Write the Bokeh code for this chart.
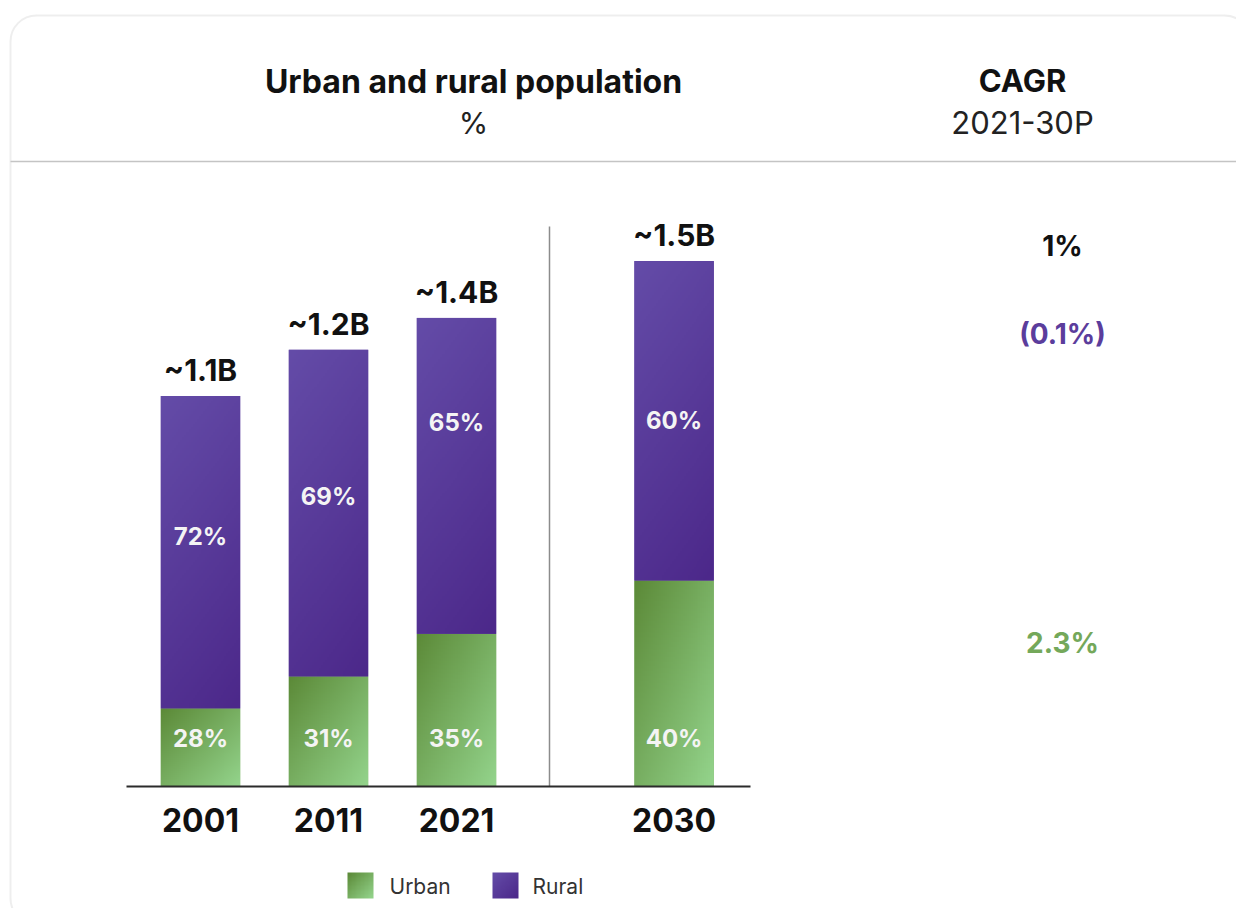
import numpy as np
from bokeh.plotting import figure
from bokeh.models import Range1d, BoxAnnotation
from bokeh.core.properties import value
from bokeh.embed import file_html
from bokeh.resources import INLINE

# ---------------- data ----------------
years = ["2001", "2011", "2021", "2030"]
projected = [0, 0, 0, 1]
urban = [0.22, 0.31, 0.43, 0.58]      # bar segment heights (billions)
rural = [0.88, 0.92, 0.89, 0.90]
total_labels = ["~1.1B", "~1.2B", "~1.4B", "~1.5B"]
urban_pct = ["28%", "31%", "35%", "40%"]
rural_pct = ["72%", "69%", "65%", "60%"]
cagr_labels = ["1%", "(0.1%)", "2.3%"]
legend_labels = ["Urban", "Rural"]
title = "Urban and rural population"
subtitle = "%"
cagr_title = "CAGR"
cagr_sub = "2021-30P"

# ---------------- layout ----------------
W, H = 1236, 908
UNIT = 128.0          # px per slot
PPB = 355.0           # px per billion
BASE_PX = 786         # baseline, px from top
X0 = -200.0 / UNIT
Y0 = -(H - BASE_PX) / PPB
GAP = 0.70
BAR_W = 0.62
FONT = value("Inter")
rural_label_frac = [0.45, 0.45, 0.33, 0.50]   # label position from top of rural segment


def dx(px):
    return X0 + px / UNIT


def dy(py):
    return Y0 + (H - py) / PPB


xs = [i + GAP * pj for i, pj in enumerate(projected)]
tops = [u + r for u, r in zip(urban, rural)]

p = figure(width=W, height=H, x_range=Range1d(X0, X0 + W / UNIT),
           y_range=Range1d(Y0, Y0 + H / PPB), min_border=0,
           x_axis_type=None, y_axis_type=None, toolbar_location=None,
           output_backend="svg")
p.grid.visible = False
p.outline_line_color = None
p.background_fill_color = "white"
p.border_fill_color = "white"


def grad_img(c0, c1, wv=0.5, nx=40, ny=120):
    yy, xx = np.mgrid[0:ny, 0:nx]
    t = wv * (1 - yy / (ny - 1)) + (1 - wv) * (xx / (nx - 1))
    img = np.empty((ny, nx), dtype=np.uint32)
    v = img.view(dtype=np.uint8).reshape((ny, nx, 4))
    for k in range(3):
        v[:, :, k] = np.clip(c0[k] + (c1[k] - c0[k]) * t, 0, 255).astype(np.uint8)
    v[:, :, 3] = 255
    return img


G0, G1 = (92, 138, 56), (148, 212, 140)
P0, P1 = (100, 76, 168), (76, 40, 138)
green_img = grad_img(G0, G1, 0.5)
purple_img = grad_img(P0, P1, 0.75)

# solid base bars (fallback colour under the gradients)
p.vbar(x=xs, bottom=0, top=urban, width=BAR_W, fill_color="#7aae62", line_color=None)
p.vbar(x=xs, bottom=urban, top=tops, width=BAR_W, fill_color="#57359a", line_color=None)

p.image_rgba(image=[green_img] * len(xs), x=[x - BAR_W / 2 for x in xs], y=[0] * len(xs),
             dw=[BAR_W] * len(xs), dh=urban)
p.image_rgba(image=[purple_img] * len(xs), x=[x - BAR_W / 2 for x in xs], y=urban,
             dw=[BAR_W] * len(xs), dh=rural)

# border box
p.add_layout(BoxAnnotation(left=dx(10), right=dx(1250), top=dy(15), bottom=dy(924),
                           fill_alpha=0, line_color="#c8c8c8", line_width=2,
                           border_radius=26))
# header rule
p.segment(x0=[dx(10)], y0=[dy(161)], x1=[dx(1252)], y1=[dy(161)],
          line_color="#c4c4c4", line_width=1.5)
# separator
p.segment(x0=[dx(549)], y0=[dy(226)], x1=[dx(549)], y1=[0],
          line_color="#8c8c8c", line_width=1.5)
# baseline
p.segment(x0=[dx(126)], y0=[0], x1=[dx(750)], y1=[0], line_color="#2b2b2b", line_width=2)

# header texts
p.text(x=[dx(473)], y=[dy(81)], text=[title], text_font=FONT, text_font_size="32px",
       text_font_style="bold", text_align="center", text_baseline="middle", text_color="#111111")
p.text(x=[dx(473)], y=[dy(122)], text=[subtitle], text_font=FONT, text_font_size="30px",
       text_align="center", text_baseline="middle", text_color="#222222")
p.text(x=[dx(1022)], y=[dy(80)], text=[cagr_title], text_font=FONT, text_font_size="31px",
       text_font_style="bold", text_align="center", text_baseline="middle", text_color="#111111")
p.text(x=[dx(1022)], y=[dy(122)], text=[cagr_sub], text_font=FONT, text_font_size="31px",
       text_align="center", text_baseline="middle", text_color="#222222")

# bar labels
p.text(x=xs, y=tops, text=total_labels, text_font=FONT, text_font_size="30px",
       text_font_style="bold", text_align="center", text_baseline="middle",
       y_offset=-26, text_color="#111111")
p.text(x=xs, y=[0] * len(xs), text=urban_pct, text_font=FONT, text_font_size="24px",
       text_font_style="bold", text_align="center", text_baseline="middle",
       y_offset=-48, text_color="#f4f4f4")
rural_y = [t - r * f for t, r, f in zip(tops, rural, rural_label_frac)]
p.text(x=xs, y=rural_y, text=rural_pct, text_font=FONT, text_font_size="24px",
       text_font_style="bold", text_align="center", text_baseline="middle",
       text_color="#f4f4f4")
p.text(x=xs, y=[0] * len(xs), text=years, text_font=FONT, text_font_size="32px",
       text_font_style="bold", text_align="center", text_baseline="middle",
       y_offset=33, text_color="#111111")

# CAGR values
p.text(x=[dx(1062)] * 3, y=[dy(245), dy(333), dy(642)], text=cagr_labels, text_font=FONT,
       text_font_size="28px", text_font_style="bold", text_align="center",
       text_baseline="middle", text_color=["#111111", "#5b3d9c", "#74a85a"])

# legend
sq = 26
p.image_rgba(image=[grad_img(G0, G1, 0.5, 20, 20), grad_img(P0, P1, 0.5, 20, 20)],
             x=[dx(347), dx(492)], y=[dy(898), dy(898)],
             dw=[sq / UNIT] * 2, dh=[sq / PPB] * 2)
p.text(x=[dx(389), dx(532)], y=[dy(886)] * 2, text=legend_labels, text_font=FONT,
       text_font_size="21px", text_align="left", text_baseline="middle", text_color="#333333")

open("out.html", "w").write(file_html(p, INLINE))
